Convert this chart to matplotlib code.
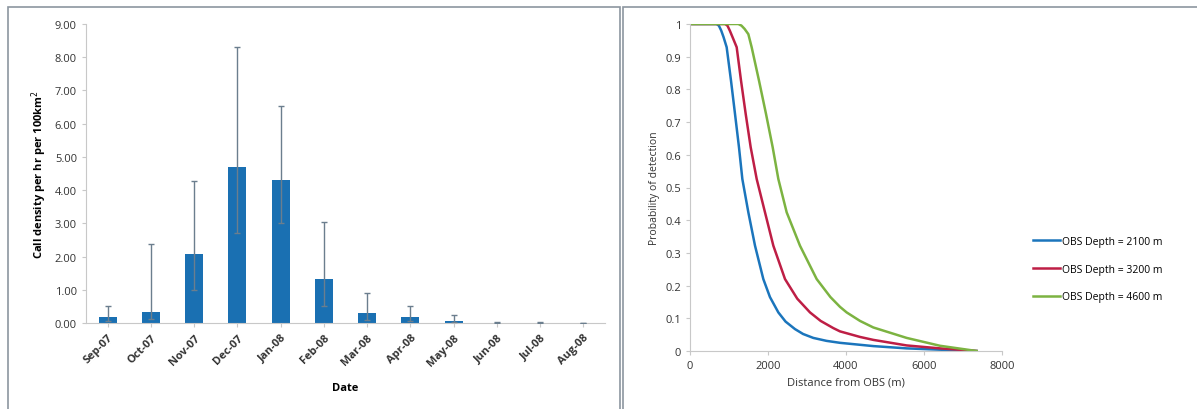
import matplotlib.pyplot as plt
from matplotlib.patches import Rectangle

plt.rcParams['font.family'] = ['Open Sans', 'DejaVu Sans']

# left panel: monthly call density
months = ['Sep-07', 'Oct-07', 'Nov-07', 'Dec-07', 'Jan-08', 'Feb-08',
          'Mar-08', 'Apr-08', 'May-08', 'Jun-08', 'Jul-08', 'Aug-08']
density = [0.17, 0.33, 2.07, 4.70, 4.30, 1.33, 0.30, 0.19, 0.06, 0.01, 0.005, 0.0]
err_up = [0.35, 2.04, 2.21, 3.60, 2.23, 1.72, 0.60, 0.33, 0.19, 0.02, 0.015, 0.0]
err_lo = [0.10, 0.20, 1.07, 2.00, 1.30, 0.83, 0.20, 0.12, 0.04, 0.005, 0.003, 0.0]

# right panel: detection probability vs distance
dist_2100 = [0, 680, 740, 800, 860, 940, 1051, 1154, 1256, 1342, 1496, 1667, 1880,
             2050, 2265, 2450, 2692, 2900, 3162, 3500, 3846, 4700, 5556, 6410, 7350]
prob_2100 = [1, 1, 0.995, 0.98, 0.96, 0.929, 0.827, 0.725, 0.623, 0.526, 0.424, 0.322, 0.220,
             0.165, 0.118, 0.09, 0.067, 0.052, 0.04, 0.031, 0.025, 0.015, 0.008, 0.004, 0]
dist_3200 = [0, 900, 960, 1020, 1090, 1197, 1308, 1428, 1556, 1710, 1923, 2137, 2436,
             2750, 3077, 3350, 3675, 3846, 4359, 4700, 5556, 6410, 7350]
prob_3200 = [1, 1, 0.995, 0.98, 0.96, 0.929, 0.827, 0.725, 0.623, 0.526, 0.424, 0.322, 0.220,
             0.16, 0.118, 0.092, 0.07, 0.06, 0.043, 0.034, 0.017, 0.008, 0]
dist_4600 = [0, 1239, 1320, 1400, 1496, 1581, 1769, 1949, 2120, 2265, 2479, 2820, 3248,
             3600, 3846, 4017, 4359, 4700, 5556, 6410, 7350]
prob_4600 = [1, 1, 0.995, 0.985, 0.969, 0.929, 0.827, 0.725, 0.623, 0.526, 0.424, 0.322, 0.220,
             0.165, 0.135, 0.118, 0.092, 0.072, 0.04, 0.016, 0]
labels = ['OBS Depth = 2100 m', 'OBS Depth = 3200 m', 'OBS Depth = 4600 m']

fig = plt.figure(figsize=(11.97, 4.10), dpi=100)

# panel frames
fig.patches.append(Rectangle((8/1197, -0.01), 612/1197, 1 - 8/410 + 0.01, transform=fig.transFigure,
                             fill=False, edgecolor='#8c96a0', linewidth=1.2))
fig.patches.append(Rectangle((623/1197, -0.01), 580/1197, 1 - 8/410 + 0.01, transform=fig.transFigure,
                             fill=False, edgecolor='#8c96a0', linewidth=1.2))

ax1 = fig.add_axes([86/1197, 1 - 324/410, 519/1197, 299/410])
x = list(range(len(months)))
ax1.bar(x, density, width=0.42, color='#1a70b2', zorder=2)
ax1.errorbar(x, density, yerr=[err_lo, err_up], fmt='none', ecolor='#6b7e8e',
             elinewidth=1, capsize=2.5, capthick=1, zorder=3)
ax1.set_xlim(-0.5, len(months) - 0.5)
ax1.set_ylim(0, 9)
ax1.set_yticks([i for i in range(10)])
ax1.set_yticklabels(['%.2f' % i for i in range(10)], fontsize=8, color='#333333')
ax1.set_xticks(x)
ax1.set_xticklabels(months, rotation=45, ha='right', rotation_mode='anchor',
                    fontsize=8, fontweight='bold', color='#333333')
ax1.set_xlabel('Date', fontsize=8, fontweight='bold', labelpad=10)
ax1.set_ylabel('Call density per hr per 100km$^2$', fontsize=8, fontweight='bold')
for s in ['top', 'right']:
    ax1.spines[s].set_visible(False)
for s in ['left', 'bottom']:
    ax1.spines[s].set_color('#c8c8c8')
ax1.tick_params(axis='both', color='#c8c8c8', length=3)

ax2 = fig.add_axes([690/1197, 1 - 352/410, 312/1197, 327/410])
ax2.plot(dist_2100, prob_2100, color='#1b75bc', lw=1.8, label=labels[0])
ax2.plot(dist_3200, prob_3200, color='#be1e45', lw=1.8, label=labels[1])
ax2.plot(dist_4600, prob_4600, color='#7cb341', lw=1.8, label=labels[2])
ax2.set_xlim(0, 8000)
ax2.set_ylim(0, 1)
ax2.set_xticks([0, 2000, 4000, 6000, 8000])
ax2.set_yticks([i / 10 for i in range(11)])
ax2.set_yticklabels(['0', '0.1', '0.2', '0.3', '0.4', '0.5', '0.6', '0.7', '0.8', '0.9', '1'])
ax2.tick_params(axis='both', labelsize=8, labelcolor='#333333', color='#c8c8c8', length=3)
ax2.set_xlabel('Distance from OBS (m)', fontsize=8, color='#333333')
ax2.set_ylabel('Probability of detection', fontsize=7.5, color='#333333')
for s in ['top', 'right']:
    ax2.spines[s].set_visible(False)
for s in ['left', 'bottom']:
    ax2.spines[s].set_color('#c8c8c8')
ax2.legend(loc='center left', bbox_to_anchor=(1.07, 0.25), frameon=False, fontsize=7.5,
           handlelength=2.6, labelspacing=1.6, handletextpad=0.2)

fig.savefig('out.png', dpi=100)
